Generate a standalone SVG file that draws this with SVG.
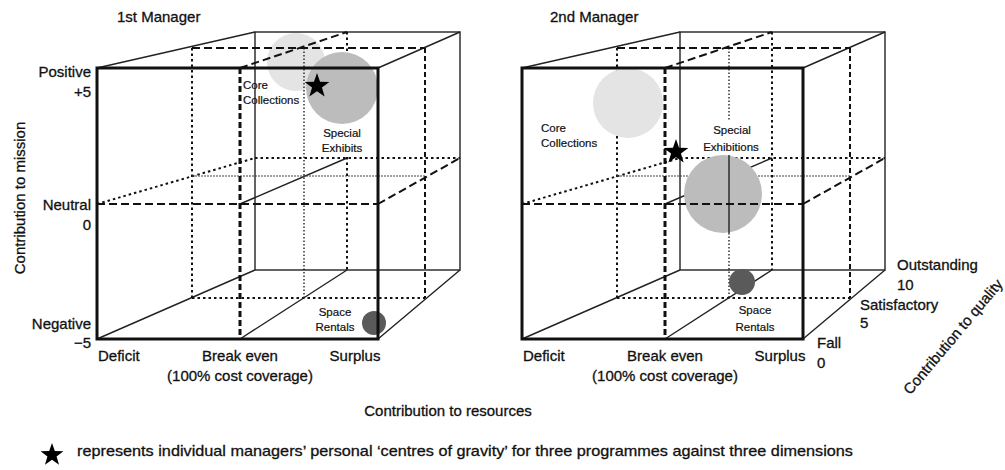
<svg xmlns="http://www.w3.org/2000/svg" width="1005" height="470" viewBox="0 0 1005 470">
<style>
text{font-family:"Liberation Sans",Arial,sans-serif;fill:#111;stroke:#111;stroke-width:0.3}
.lbl{font-size:15px}
.sm{font-size:11.5px;stroke-width:0.2}
.mid{text-anchor:middle}
.end{text-anchor:end}
.ln{fill:none;stroke:#111}
.thick{stroke-width:3}
.thin{stroke-width:1.4;stroke:#222}
.dash{stroke-width:2;stroke-dasharray:8 4}
.dashs{stroke-width:2;stroke-dasharray:5 3}
.dashthick{stroke-width:3;stroke-dasharray:6 3}
.dot{stroke-width:2;stroke-dasharray:2.5 3}
.dotfine{stroke-width:1.3;stroke-dasharray:1.5 2}
.hair{stroke-width:1.2;stroke:#444;stroke-dasharray:2 1}
.c1{fill:#e4e4e4}
.c2{fill:#bcbcbc}
.c3{fill:#5a5a5a}
</style>
<defs>
<path id="star" d="M0,-1 L0.235,-0.324 L0.951,-0.309 L0.38,0.124 L0.588,0.809 L0,0.4 L-0.588,0.809 L-0.38,0.124 L-0.951,-0.309 L-0.235,-0.324Z" fill="#000"/>
<g id="cubeBack" class="ln">
 <rect class="ln thin" x="255" y="32" width="205" height="238"/>
 <path class="ln thin" d="M97,68 L255,32 M378,68 L460,32 M97,339 L255,270 M378,339 L460,270"/>
 <path class="ln dash" d="M192,48 H425"/>
 <path class="ln dashs" d="M425,48 V298"/>
 <path class="ln dot" d="M192,298 H425 M192,48 V298"/>
 <path class="ln dash" d="M240,68 L347,32"/>
 <path class="ln thin" d="M240,339 L347,270 M240,204 L347,158"/>
 <path class="ln dot" d="M255,158 H460 M97,204 L255,158"/>
 <path class="ln dash" d="M378,204 L460,158"/>
 <path class="ln hair" d="M192,176 H425"/>
</g>
<g id="cubeFront">
 <path class="ln dash" d="M97,204 H378"/>
 <path class="ln dashthick" d="M240,68 V339"/>
 <rect class="ln thick" x="97" y="68" width="281" height="271"/>
</g>
</defs>

<g id="manager1">
 <text class="lbl" x="117" y="22">1st Manager</text>
 <circle id="m1-core-circle" class="c1" cx="296" cy="62" r="29"/>
 <use href="#cubeBack"/>
 <path class="ln dot" d="M347,32 V124 M347,157 V270"/>
 <path class="ln dotfine" d="M304,48 V298"/>
 <circle id="m1-special-circle" class="c2" cx="342" cy="88" r="36"/>
 <circle id="m1-space-circle" class="c3" cx="374" cy="323" r="12"/>
 <use href="#cubeFront"/>
 <g id="m1-labels">
  <text class="sm" x="243" y="89">Core</text>
  <text class="sm" x="243" y="104">Collections</text>
  <text class="sm mid" x="342" y="137">Special</text>
  <text class="sm mid" x="342" y="152">Exhibits</text>
  <text class="sm mid" x="335" y="316">Space</text>
  <text class="sm mid" x="335" y="331">Rentals</text>
 </g>
 <use href="#star" transform="translate(317,86) scale(13)"/>
 <g id="m1-axis">
  <text class="lbl end" x="91" y="77">Positive</text>
  <text class="lbl end" x="91" y="97">+5</text>
  <text class="lbl end" x="91" y="210">Neutral</text>
  <text class="lbl end" x="91" y="230">0</text>
  <text class="lbl end" x="91" y="329">Negative</text>
  <text class="lbl end" x="91" y="348">−5</text>
  <text class="lbl" x="98" y="361">Deficit</text>
  <text class="lbl mid" x="240" y="361">Break even</text>
  <text class="lbl mid" x="240" y="381">(100% cost coverage)</text>
  <text class="lbl mid" x="355" y="361">Surplus</text>
 </g>
</g>

<g id="manager2">
 <text class="lbl" x="550" y="22">2nd Manager</text>
 <use href="#cubeBack" transform="translate(425,0)"/>
 <path class="ln dot" d="M772,32 V270"/>
 <path class="ln dotfine" d="M729,48 V120 M729,233 V298"/>
 <circle id="m2-core-circle" class="c1" cx="628" cy="103" r="35"/>
 <circle id="m2-special-circle" class="c2" cx="723" cy="194" r="39"/>
 <circle id="m2-space-circle" class="c3" cx="742" cy="282" r="13"/>
 <path class="ln thin" d="M729,155 V233"/>
 <use href="#cubeFront" transform="translate(425,0)"/>
 <g id="m2-labels">
  <text class="sm" x="541" y="132">Core</text>
  <text class="sm" x="541" y="147">Collections</text>
  <text class="sm mid" x="732" y="134">Special</text>
  <text class="sm mid" x="731" y="151">Exhibitions</text>
  <text class="sm mid" x="755" y="314">Space</text>
  <text class="sm mid" x="755" y="331">Rentals</text>
 </g>
 <use href="#star" transform="translate(676,152) scale(13)"/>
 <g id="m2-axis">
  <text class="lbl" x="523" y="361">Deficit</text>
  <text class="lbl mid" x="665" y="361">Break even</text>
  <text class="lbl mid" x="665" y="381">(100% cost coverage)</text>
  <text class="lbl mid" x="780" y="361">Surplus</text>
  <text class="lbl" x="897" y="270">Outstanding</text>
  <text class="lbl" x="897" y="290">10</text>
  <text class="lbl" x="860" y="310">Satisfactory</text>
  <text class="lbl" x="860" y="328">5</text>
  <text class="lbl" x="817" y="348">Fall</text>
  <text class="lbl" x="817" y="368">0</text>
 </g>
</g>

<g id="axis-titles">
 <text class="lbl mid" x="25" y="198" transform="rotate(-90 25 198)">Contribution to mission</text>
 <text class="lbl mid" x="448" y="416">Contribution to resources</text>
 <text class="lbl mid" x="957" y="340" transform="rotate(-50 957 340)">Contribution to quality</text>
</g>

<g id="legend">
 <use href="#star" transform="translate(52,455) scale(12)"/>
 <text class="lbl" x="77" y="456" textLength="776" lengthAdjust="spacingAndGlyphs">represents individual managers’ personal ‘centres of gravity’ for three programmes against three dimensions</text>
</g>
</svg>
